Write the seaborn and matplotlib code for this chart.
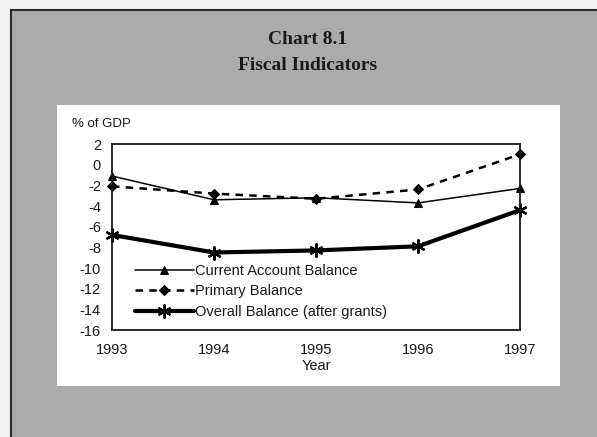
import numpy as np
import pandas as pd
import matplotlib
matplotlib.use("Agg")
import matplotlib.pyplot as plt
from matplotlib.patches import Rectangle
import seaborn as sns

# values
years = [1993, 1994, 1995, 1996, 1997]
current_account = [-1.1, -3.4, -3.2, -3.7, -2.3]
primary_balance = [-2.1, -2.8, -3.3, -2.4, 1.0]
overall_balance = [-6.8, -8.5, -8.3, -7.9, -4.4]
y_ticks = [2, 0, -2, -4, -6, -8, -10, -12, -14, -16]

series_names = ["Current Account Balance", "Primary Balance", "Overall Balance (after grants)"]

df = pd.DataFrame({
    "Year": years * 3,
    "value": current_account + primary_balance + overall_balance,
    "series": [s for s in series_names for _ in years],
})

sns.set_style("white")
plt.rcParams["font.family"] = ["Liberation Sans", "DejaVu Sans"]
plt.rcParams["axes.unicode_minus"] = False

W, H = 597, 437
fig = plt.figure(figsize=(W / 100, H / 100), dpi=100)
fig.patch.set_facecolor("#f2f2f2")

#grey stippled card with dark frame at top/left (runs off the right and bottom edges)
fig.patches.append(Rectangle((11 / W, -0.05), 1.1, 1.05 - 10 / H, transform=fig.transFigure,
                             facecolor="#ababab", edgecolor="#2a2a2a", linewidth=1.5, zorder=-2))
#white panel behind the plot
fig.patches.append(Rectangle((57 / W, 1 - 386 / H), (560 - 57) / W, (386 - 105) / H,
                             transform=fig.transFigure, facecolor="white", edgecolor="none", zorder=-1))

ax = fig.add_axes([112 / W, 1 - 330 / H, (520 - 112) / W, (330 - 144) / H])
ax.set_facecolor("white")

styles = {
    "Current Account Balance": dict(linestyle="-", linewidth=1.1, marker="^", markersize=6),
    "Primary Balance": dict(linestyle=(0, (3, 2.5)), linewidth=1.8, marker="D", markersize=5),
    "Overall Balance (after grants)": dict(linestyle="-", linewidth=3.0, marker=(6, 2, 0), markersize=10,
                                           markeredgewidth=1.6),
}

for name in series_names:
    sub = df[df["series"] == name]
    sns.lineplot(data=sub, x="Year", y="value", ax=ax, color="black", label=name,
                 markeredgecolor="black", clip_on=False, **styles[name])

ax.set_xlim(1993, 1997)
ax.set_ylim(-16, 2)
ax.set_xticks(years)
ax.set_xticklabels([str(y) for y in years])
ax.set_yticks(y_ticks)
ax.set_yticklabels([str(t) for t in y_ticks])
ax.tick_params(axis="both", length=0, labelsize=10.5, colors="#1a1a1a")
ax.tick_params(axis="x", pad=9)
ax.tick_params(axis="y", pad=8)
for sp in ax.spines.values():
    sp.set_visible(True)
    sp.set_color("#1a1a1a")
    sp.set_linewidth(1.3)

ax.set_xlabel("Year", fontsize=10.5, labelpad=2, color="#1a1a1a")
ax.set_ylabel("")

leg = ax.legend(loc="lower left", bbox_to_anchor=(0.03, 0.0), frameon=False, fontsize=10.5,
                handlelength=4.0, handletextpad=0.1, labelspacing=0.45, borderaxespad=0.35)
for t in leg.get_texts():
    t.set_color("#1a1a1a")

fig.text(72 / W, 1 - 124 / H, "% of GDP", fontsize=9.5, ha="left", va="center", color="#1a1a1a")

fig.text(308 / W, 1 - 40 / H, "Chart 8.1", fontsize=14, fontweight="bold", ha="center", va="center",
         family=["Liberation Serif", "DejaVu Serif"], color="#1a1a1a")
fig.text(308 / W, 1 - 65 / H, "Fiscal Indicators", fontsize=14, fontweight="bold", ha="center",
         va="center", family=["Liberation Serif", "DejaVu Serif"], color="#1a1a1a")

fig.savefig("out.png", dpi=100, facecolor=fig.get_facecolor())
